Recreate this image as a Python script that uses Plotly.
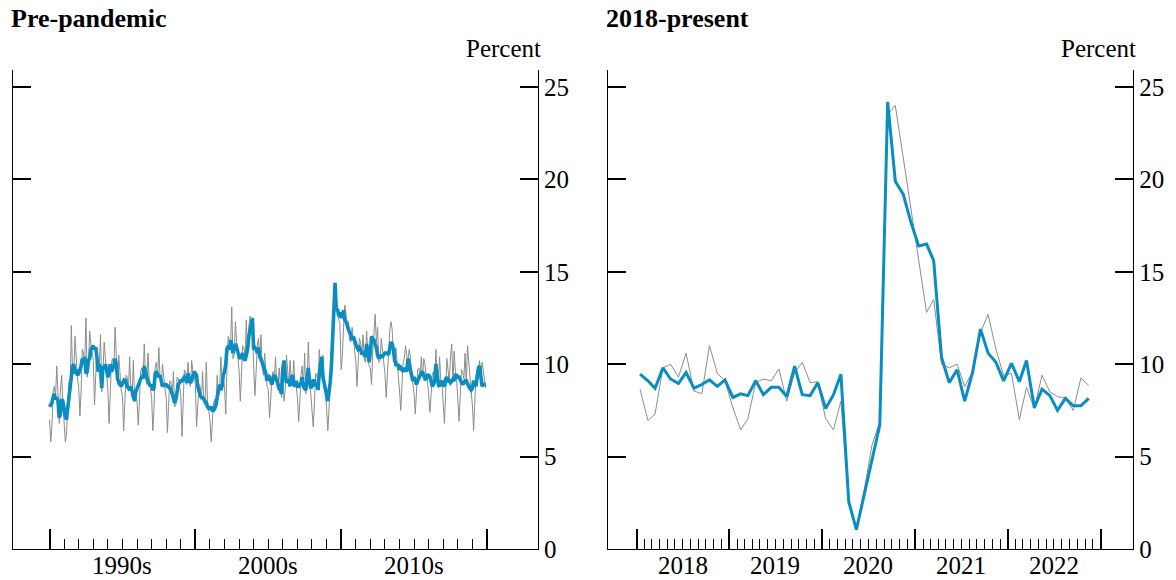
import pandas as pd
import plotly.graph_objects as go

# Seasonally adjusted rate, monthly, 1990-2019 (percent)
sa_1990s = [
    7.7, 7.8, 7.9, 8.2, 8.4, 8.1, 8.2, 8.0, 7.1, 7.3, 8.1, 8.0,
    7.4, 7.2, 7.0, 7.6, 8.5, 8.7, 9.3, 9.9, 10.0, 9.5, 9.7, 9.4,
    9.5, 9.7, 9.9, 10.3, 10.1, 10.4, 9.5, 9.6, 10.2, 10.3, 10.8, 10.9,
    11.0, 10.8, 10.9, 10.4, 9.6, 10.0, 9.7, 8.7, 9.9, 9.8, 10.0, 9.7,
    9.3, 9.5, 10.0, 9.6, 9.8, 9.9, 10.3, 10.0, 9.2, 9.0, 8.9, 8.8,
    9.0, 9.1, 9.2, 8.9, 8.8, 8.7, 8.6, 8.8, 8.5, 8.2, 8.0, 8.5,
    8.7, 8.8, 9.1, 9.2, 9.3, 9.3, 9.9, 9.5, 9.3, 9.1, 8.9, 8.8,
    8.9, 8.6, 8.7, 9.5, 9.6, 9.4, 9.3, 9.4, 9.1, 8.8, 8.9, 8.9,
    8.9, 8.8, 8.8, 8.7, 8.6, 8.4, 8.2, 7.9, 8.1, 8.5, 8.9, 9.0,
    9.1, 9.1, 9.2, 9.3, 9.2, 9.0, 9.5, 9.2, 9.0, 9.1, 9.3, 9.6,
]
sa_2000s = [
    9.5, 9.4, 8.8, 8.4, 8.3, 8.2, 8.2, 8.1, 8.0, 7.9, 7.7, 7.6,
    7.6, 7.7, 7.5, 7.5, 7.6, 7.8, 8.2, 8.6, 8.9, 8.6, 8.8, 9.4,
    9.6, 10.0, 10.8, 11.0, 10.8, 11.3, 11.0, 10.6, 10.9, 11.1, 10.9, 10.6,
    10.4, 10.3, 10.5, 10.6, 10.3, 10.2, 10.5, 10.8, 11.5, 11.8, 12.3, 12.5,
    10.8, 10.9, 10.8, 10.6, 10.9, 10.4, 10.3, 10.1, 9.9, 9.6, 9.5, 9.1,
    9.4, 9.3, 9.1, 8.9, 9.2, 9.4, 9.3, 9.1, 9.0, 8.8, 8.6, 8.4,
    9.8, 10.2, 9.5, 9.0, 9.1, 9.1, 8.8, 9.3, 9.4, 8.9, 8.8, 9.1,
    8.8, 8.8, 8.9, 9.0, 9.3, 8.8, 8.7, 8.6, 9.2, 9.8, 9.1, 8.7,
    8.8, 9.1, 9.1, 8.8, 9.0, 8.6, 9.5, 10.2, 10.4, 9.3, 8.9, 8.8,
    8.3, 8.0, 8.5, 9.0, 9.9, 11.3, 12.7, 14.4, 12.9, 13.0, 12.6, 12.8,
]
sa_2010s = [
    12.5, 12.8, 12.9, 12.4, 12.3, 12.1, 11.8, 11.7, 11.6, 11.3, 11.5, 11.3,
    11.0, 10.9, 10.8, 10.9, 10.8, 10.6, 10.6, 10.5, 10.4, 11.1, 10.3, 10.1,
    10.6, 11.5, 11.4, 11.3, 11.1, 10.9, 10.5, 10.3, 10.5, 10.4, 10.4, 10.5,
    10.6, 10.6, 10.6, 10.5, 10.9, 11.2, 11.1, 10.8, 10.2, 10.0, 9.9, 10.0,
    9.7, 9.8, 9.7, 9.6, 9.8, 9.7, 9.6, 10.3, 9.9, 9.7, 9.4, 9.1,
    9.3, 9.1, 8.9, 9.1, 9.3, 9.4, 9.5, 9.6, 9.4, 9.2, 9.2, 9.4,
    9.4, 9.3, 9.1, 8.8, 8.9, 9.1, 10.0, 9.4, 8.9, 8.8, 9.0, 9.1,
    8.9, 8.8, 9.2, 9.3, 9.1, 9.1, 9.0, 9.1, 9.2, 9.1, 9.4, 9.4,
    9.3, 9.3, 9.2, 9.0, 8.9, 9.0, 9.1, 9.1, 8.9, 8.8, 8.7, 8.6,
    8.7, 9.1, 9.0, 8.8, 9.3, 9.8, 9.9, 9.4, 8.8, 8.9, 8.9, 8.9,
]

# Not seasonally adjusted rate, monthly, 1990-2019 (percent)
nsa_1990s = [
    7.0, 5.8, 6.6, 8.5, 8.8, 8.2, 9.9, 7.8, 6.8, 8.6, 9.4, 7.9,
    6.7, 5.8, 6.2, 8.0, 9.0, 8.6, 12.1, 9.6, 9.5, 11.5, 10.0, 9.2,
    8.8, 7.2, 8.5, 10.8, 10.6, 10.2, 12.5, 9.3, 9.8, 11.8, 11.1, 10.7,
    10.2, 7.8, 9.6, 10.9, 10.1, 9.9, 11.6, 8.5, 9.6, 11.2, 10.3, 9.5,
    8.6, 6.8, 8.8, 10.1, 10.3, 9.8, 12.0, 9.8, 8.9, 10.5, 9.2, 8.6,
    8.3, 6.4, 7.9, 9.4, 9.3, 8.6, 10.4, 8.6, 8.2, 10.2, 8.3, 8.3,
    8.0, 6.7, 7.9, 9.6, 9.8, 9.2, 11.1, 9.3, 8.9, 10.6, 9.2, 8.6,
    8.2, 6.4, 7.6, 9.9, 10.1, 9.3, 10.9, 9.2, 8.8, 10.0, 9.2, 8.7,
    8.2, 6.3, 7.7, 9.1, 9.0, 8.3, 9.6, 7.7, 7.8, 9.3, 9.2, 8.8,
    8.4, 6.1, 8.0, 9.7, 9.6, 8.9, 10.1, 9.0, 8.8, 10.2, 9.6, 9.4,
]
nsa_2000s = [
    8.9, 6.6, 7.7, 8.9, 8.8, 8.1, 9.6, 7.9, 7.8, 10.1, 8.0, 7.4,
    7.0, 5.8, 6.6, 7.9, 8.1, 7.7, 9.4, 8.4, 8.6, 10.4, 9.1, 9.2,
    8.8, 7.3, 9.6, 11.5, 11.3, 11.0, 13.1, 10.3, 10.5, 12.3, 11.2, 10.3,
    9.6, 8.0, 9.3, 11.0, 10.9, 10.4, 12.4, 10.4, 12.0, 12.6, 12.5, 12.0,
    9.9, 8.3, 9.5, 11.0, 11.4, 10.2, 11.6, 9.8, 9.4, 10.6, 9.7, 8.8,
    8.6, 7.1, 8.0, 9.3, 9.6, 9.1, 10.4, 8.8, 8.6, 9.8, 8.8, 8.2,
    9.0, 8.0, 8.6, 10.5, 9.7, 8.9, 10.2, 9.1, 9.0, 10.2, 9.0, 8.8,
    8.2, 6.9, 7.9, 9.4, 9.9, 8.6, 10.6, 8.4, 8.9, 11.2, 9.3, 8.4,
    7.9, 6.6, 7.8, 9.5, 9.4, 8.7, 10.8, 9.9, 9.8, 10.5, 9.0, 8.5,
    7.6, 6.4, 7.5, 9.3, 10.3, 11.0, 13.0, 13.8, 13.4, 13.1, 12.4, 12.2,
]
nsa_2010s = [
    9.7, 10.5, 12.0, 13.2, 12.8, 11.9, 12.3, 11.3, 11.2, 12.0, 11.4, 10.9,
    10.2, 8.8, 9.9, 11.4, 11.2, 10.5, 11.6, 10.3, 10.1, 11.8, 10.5, 9.9,
    9.8, 8.9, 10.6, 12.0, 12.7, 11.2, 12.0, 10.1, 10.2, 11.4, 10.6, 10.2,
    9.5, 8.2, 9.6, 11.2, 11.8, 12.3, 11.9, 10.6, 9.9, 10.9, 10.1, 9.6,
    8.6, 7.5, 8.9, 10.1, 10.3, 11.0, 10.5, 10.1, 10.8, 10.4, 9.5, 9.0,
    8.4, 7.3, 8.3, 9.7, 9.8, 9.2, 10.4, 9.3, 10.3, 10.0, 9.3, 9.1,
    8.4, 7.4, 8.3, 9.4, 9.6, 9.1, 10.8, 9.2, 8.7, 10.4, 9.1, 8.9,
    7.8, 6.8, 8.4, 10.3, 9.7, 9.0, 10.4, 11.1, 9.0, 10.7, 9.6, 9.2,
    8.1, 6.9, 8.2, 9.7, 9.6, 9.2, 10.6, 8.9, 11.0, 10.0, 9.0, 8.5,
    7.8, 6.4, 7.9, 9.4, 9.6, 9.8, 10.2, 9.1, 10.1, 9.6, 8.9, 8.7,
]

# Monthly, January 2018 - November 2022 (percent)
sa_recent = [
    9.46, 9.1, 8.7, 9.8, 9.2, 8.95, 9.55, 8.7, 8.9, 9.15, 8.8, 9.15,
    8.2, 8.4, 8.3, 9.1, 8.35, 8.75, 8.75, 8.25, 9.9, 8.35, 8.3, 9.0,
    7.6, 8.35, 9.45, 2.55, 1.05, 2.9, 4.8, 6.7, 24.2, 19.9, 19.2, 17.7,
    16.4, 16.5, 15.6, 10.36, 9.0, 9.7, 8.0, 9.55, 11.9, 10.6, 10.1, 9.1,
    10.05, 9.05, 10.2, 7.65, 8.65, 8.3, 7.5, 8.15, 7.75, 7.75, 8.15,
]
nsa_recent = [
    8.65, 6.95, 7.3, 9.8, 10.0, 9.3, 10.6, 8.55, 8.4, 11.0, 9.5, 9.1,
    7.65, 6.45, 7.05, 9.0, 9.2, 9.1, 9.75, 8.0, 9.55, 10.1, 9.0, 9.05,
    7.05, 6.45, 8.0, 2.5, 1.1, 3.2, 5.6, 6.9, 23.5, 24.0, 21.2, 18.5,
    15.7, 12.8, 13.5, 10.0, 9.8, 10.0, 8.8, 9.6, 11.7, 12.7, 10.8, 9.4,
    9.5, 7.0, 8.75, 7.6, 9.4, 8.5, 8.25, 8.15, 7.5, 9.25, 8.85,
]

decade_labels = ["1990s", "2000s", "2010s"]
year_labels = ["2018", "2019", "2020", "2021", "2022"]
y_ticks = [0, 5, 10, 15, 20, 25]

BLUE = "#0A8DC0"
GRAY = "#8C8C8C"
FONT = "Liberation Serif"

sa_pre = sa_1990s + sa_2000s + sa_2010s
nsa_pre = nsa_1990s + nsa_2000s + nsa_2010s
months_pre = pd.date_range("1990-01-01", periods=len(sa_pre), freq="MS")
# recent months are plotted at mid-month
months_recent = pd.date_range("2018-01-01", periods=len(sa_recent), freq="MS") + pd.Timedelta(days=14)

fig = go.Figure()
fig.add_trace(go.Scatter(x=months_pre, y=nsa_pre, mode="lines",
                         line=dict(color=GRAY, width=1), xaxis="x", yaxis="y"))
fig.add_trace(go.Scatter(x=months_pre, y=sa_pre, mode="lines",
                         line=dict(color=BLUE, width=3.6), xaxis="x", yaxis="y"))
fig.add_trace(go.Scatter(x=months_recent, y=nsa_recent, mode="lines",
                         line=dict(color=GRAY, width=1), xaxis="x2", yaxis="y2"))
fig.add_trace(go.Scatter(x=months_recent, y=sa_recent, mode="lines",
                         line=dict(color=BLUE, width=3), xaxis="x2", yaxis="y2"))

# tick positions
pre_major = [f"{y}-01-01" for y in range(1990, 2021, 10)]
pre_minor = [f"{y}-01-01" for y in range(1991, 2020) if y % 10 != 0]
rec_major = [f"{y}-01-01" for y in range(2018, 2024)]
rec_minor = [f"{y}-{m:02d}-01" for y in range(2018, 2023) for m in range(2, 13)]


def x_axis(domain, rng, major, minor):
    return dict(
        domain=domain, range=rng, type="date", showgrid=False, zeroline=False,
        showline=True, linecolor="black", linewidth=1.3,
        ticks="inside", tickmode="array", tickvals=major, ticklen=20,
        tickwidth=2, tickcolor="black", showticklabels=False,
        minor=dict(tickmode="array", tickvals=minor, ticks="inside",
                   ticklen=10, tickwidth=1.3, tickcolor="black", showgrid=False),
    )


def y_axis(anchor):
    return dict(
        anchor=anchor, side="right", range=[0, 25.92], showgrid=False,
        zeroline=False, showline=True, linecolor="black", linewidth=1.3,
        mirror="ticks", ticks="inside", tickmode="array", tickvals=y_ticks,
        ticklen=18, tickwidth=2, tickcolor="black",
        tickfont=dict(family=FONT, size=25, color="black"),
    )


fig.update_layout(
    width=1176, height=580, showlegend=False,
    paper_bgcolor="white", plot_bgcolor="white",
    margin=dict(l=12, r=35, t=70, b=31),
    font=dict(family=FONT, color="black"),
    xaxis=x_axis([0, 0.4686], ["1987-07-01", "2023-06-28"], pre_major, pre_minor),
    yaxis=y_axis("x"),
    xaxis2=x_axis([0.5315, 1], ["2017-09-12", "2023-05-08"], rec_major, rec_minor),
    yaxis2=y_axis("x2"),
)

annotations = []
for xa, ya, title in [("x", "y", "Pre-pandemic"), ("x2", "y2", "2018-present")]:
    annotations.append(dict(
        text=f"<b>{title}</b>", xref=f"{xa} domain", yref=f"{ya} domain",
        x=0, y=1, xanchor="left", yanchor="middle", xshift=-4, yshift=52,
        showarrow=False, font=dict(family=FONT, size=26, color="black")))
    annotations.append(dict(
        text="Percent", xref=f"{xa} domain", yref=f"{ya} domain",
        x=1, y=1, xanchor="right", yanchor="middle", xshift=5, yshift=22,
        showarrow=False, font=dict(family=FONT, size=25, color="black")))

for i, lab in enumerate(decade_labels):
    annotations.append(dict(
        text=lab, xref="x", yref="y domain", x=f"{1995 + 10 * i}-01-01", y=0,
        xanchor="center", yanchor="middle", yshift=-16, showarrow=False,
        font=dict(family=FONT, size=25, color="black")))
for lab in year_labels:
    annotations.append(dict(
        text=lab, xref="x2", yref="y2 domain", x=f"{lab}-07-01", y=0,
        xanchor="center", yanchor="middle", yshift=-16, showarrow=False,
        font=dict(family=FONT, size=25, color="black")))

fig.update_layout(annotations=annotations)
fig.write_html("out.html")
